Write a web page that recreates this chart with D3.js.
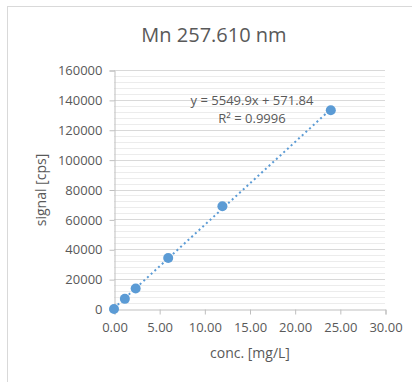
<!DOCTYPE html>
<html>
<head>
<meta charset="utf-8">
<script src="https://cdn.jsdelivr.net/npm/d3@7"></script>
<style>
  body { margin: 0; background: #fff; }
</style>
</head>
<body>
<script>
'use strict';

// calibration points
const conc = [0, 1.2, 2.4, 6, 12, 24];
const signal = [0, 6800, 13700, 34100, 68800, 133100];

// trendline as given in the chart label
const slope = 5549.9;
const intercept = 571.84;
const eqLabels = ["y = 5549.9x + 571.84", "R² = 0.9996"];

const xTicks = [0, 5, 10, 15, 20, 25, 30];
const yTicks = [0, 20000, 40000, 60000, 80000, 100000, 120000, 140000, 160000];
const yMinorStep = 4000;

const chartTitle = "Mn 257.610 nm";
const xTitle = "conc. [mg/L]";
const yTitle = "signal [cps]";

const W = 412, H = 382;
const grey = '#595959';
const blue = '#5b9bd5';
const font = "'Open Sans', 'Liberation Sans', Arial, sans-serif";

let svg = d3.select('body')
  .append('svg')
  .attr('width', W)
  .attr('height', H)
  .style('font-family', font);

// outer chart frame (runs off the right and bottom)
svg.append('rect')
  .attr('x', 7.5)
  .attr('y', 6.5)
  .attr('width', W)
  .attr('height', H)
  .attr('fill', '#fff')
  .attr('stroke', '#d9d9d9');

let xScale = d3.scaleLinear().domain([0, 30]).range([114, 385]);
let yScale = d3.scaleLinear().domain([0, 160000]).range([309, 70]);

// minor gridlines
let minor = d3.range(0, 160000 + 1, yMinorStep).filter(v => v % 20000 != 0);
svg.append('g')
  .selectAll('line')
  .data(minor)
  .enter()
  .append('line')
  .attr('x1', xScale(0))
  .attr('x2', xScale(30))
  .attr('y1', d => Math.round(yScale(d)) + 0.5)
  .attr('y2', d => Math.round(yScale(d)) + 0.5)
  .attr('stroke', '#ececec');

// major gridlines
svg.append('g')
  .selectAll('line')
  .data(yTicks.slice(1))
  .enter()
  .append('line')
  .attr('x1', xScale(0))
  .attr('x2', xScale(30))
  .attr('y1', d => Math.round(yScale(d)) + 0.5)
  .attr('y2', d => Math.round(yScale(d)) + 0.5)
  .attr('stroke', '#d9d9d9');

// y axis
let yAxis = svg.append('g')
  .attr('transform', 'translate(' + (xScale(0) + 0.5) + ',0.5)')
  .call(d3.axisLeft(yScale).tickValues(yTicks).tickSize(5).tickPadding(7).tickFormat(d3.format('d')));

// x axis
let xAxis = svg.append('g')
  .attr('transform', 'translate(0.5,' + (yScale(0) + 0.5) + ')')
  .call(d3.axisBottom(xScale).tickValues(xTicks).tickSize(5).tickPadding(8).tickFormat(d3.format('.2f')));

[xAxis, yAxis].forEach(a => {
  a.select('.domain').attr('stroke', '#bfbfbf');
  a.selectAll('.tick line').attr('stroke', '#bfbfbf');
  a.selectAll('.tick text')
    .attr('fill', grey)
    .style('font-size', '13px')
    .style('font-family', font);
});

// trendline
svg.append('line')
  .attr('x1', xScale(conc[0]))
  .attr('y1', yScale(slope * conc[0] + intercept))
  .attr('x2', xScale(conc[conc.length - 1]))
  .attr('y2', yScale(slope * conc[conc.length - 1] + intercept))
  .attr('stroke', blue)
  .attr('stroke-width', 2)
  .attr('stroke-dasharray', '2,3');

// data points
svg.selectAll('.pt')
  .data(conc)
  .enter()
  .append('circle')
  .attr('cx', d => xScale(d))
  .attr('cy', (d, i) => yScale(signal[i]))
  .attr('r', 5)
  .attr('fill', blue);

// equation label
svg.selectAll('.eq')
  .data(eqLabels)
  .enter()
  .append('text')
  .attr('x', 252)
  .attr('y', (d, i) => 105 + i * 18)
  .attr('text-anchor', 'middle')
  .attr('fill', grey)
  .style('font-size', '13px')
  .text(d => d);

// title and axis titles
svg.append('text')
  .attr('x', 214)
  .attr('y', 42)
  .attr('text-anchor', 'middle')
  .attr('fill', grey)
  .style('font-size', '20px')
  .text(chartTitle);

svg.append('text')
  .attr('x', 250)
  .attr('y', 358)
  .attr('text-anchor', 'middle')
  .attr('fill', grey)
  .style('font-size', '14px')
  .text(xTitle);

svg.append('text')
  .attr('transform', 'translate(46, 190)rotate(-90)')
  .attr('text-anchor', 'middle')
  .attr('fill', grey)
  .style('font-size', '14px')
  .text(yTitle);
</script>
</body>
</html>
